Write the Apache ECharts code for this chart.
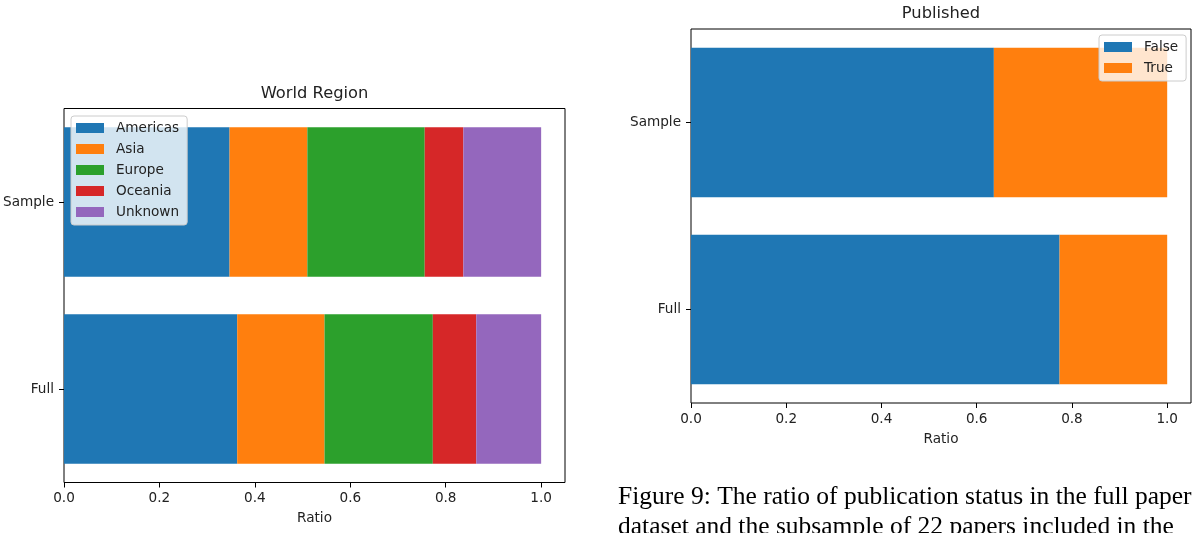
<!DOCTYPE html>
<html>
<head>
<meta charset="utf-8">
<script src="https://cdn.jsdelivr.net/npm/echarts@6.0.0/dist/echarts.min.js"></script>
<style>
  html, body { margin: 0; padding: 0; background: #fff; }
  #chart { width: 1192px; height: 533px; }
</style>
</head>
<body>
<div id="chart"></div>
<script>
// categories (bottom to top, like matplotlib barh)
const groups = ['Full', 'Sample']

// World Region ratios per group [Full, Sample]
const regionNames = ['Americas', 'Asia', 'Europe', 'Oceania', 'Unknown']
const americas = [0.363, 0.347]
const asia = [0.183, 0.163]
const europe = [0.227, 0.246]
const oceania = [0.091, 0.081]
const unknown = [0.136, 0.163]
const regionValues = [americas, asia, europe, oceania, unknown]

// Published ratios per group [Full, Sample]
const publishedNames = ['False', 'True']
const publishedFalse = [0.774, 0.636]
const publishedTrue = [0.226, 0.364]
const publishedValues = [publishedFalse, publishedTrue]

const ratioTicks = [0, 0.2, 0.4, 0.6, 0.8, 1.0]

const captionLines = [
  'Figure 9: The ratio of publication status in the full paper',
  'dataset and the subsample of 22 papers included in the'
]

const tab10 = ['#1f77b4', '#ff7f0e', '#2ca02c', '#d62728', '#9467bd']
const FONT = 'DejaVu Sans'
const TEXT = '#222'

const chart = echarts.init(document.getElementById('chart'), null, { renderer: 'canvas' })

const gridBase = {
  show: true,
  borderColor: '#000',
  borderWidth: 1,
  backgroundColor: 'transparent',
  containLabel: false,
  outerBoundsMode: 'none'
}

function xAxisFor(gridIndex) {
  return {
    type: 'value',
    gridIndex,
    min: 0,
    max: 1.05,
    name: 'Ratio',
    nameLocation: 'middle',
    nameGap: 29,
    nameTextStyle: { fontFamily: FONT, fontSize: 13.6, color: TEXT },
    axisLine: { show: false },
    axisTick: { show: true, length: 5, customValues: ratioTicks, lineStyle: { color: '#000', width: 1 } },
    axisLabel: {
      margin: 9,
      customValues: ratioTicks,
      formatter: (v) => v.toFixed(1),
      fontFamily: FONT,
      fontSize: 13.6,
      color: TEXT
    },
    splitLine: { show: false }
  }
}

function yAxisFor(gridIndex) {
  return {
    type: 'category',
    gridIndex,
    data: groups,
    axisLine: { show: false },
    axisTick: { show: true, length: 5, alignWithLabel: true, lineStyle: { color: '#000', width: 1 } },
    axisLabel: { margin: 10, fontFamily: FONT, fontSize: 13.6, color: TEXT },
    splitLine: { show: false }
  }
}

const legendBase = {
  orient: 'vertical',
  icon: 'rect',
  itemWidth: 28,
  itemHeight: 10,
  itemGap: 7,
  padding: [5, 8, 6, 5],
  backgroundColor: 'rgba(255,255,255,0.8)',
  borderColor: '#cccccc',
  borderWidth: 1,
  borderRadius: 3,
  selectedMode: false,
  textStyle: { fontFamily: FONT, fontSize: 13.6, color: TEXT, lineHeight: 14, padding: [0, 0, 0, 7] }
}

const series = []
regionNames.forEach((name, i) => {
  series.push({
    name,
    type: 'bar',
    stack: 'region',
    xAxisIndex: 0,
    yAxisIndex: 0,
    barCategoryGap: '20%',
    itemStyle: { color: tab10[i] },
    data: regionValues[i]
  })
})
publishedNames.forEach((name, i) => {
  series.push({
    name,
    type: 'bar',
    stack: 'published',
    xAxisIndex: 1,
    yAxisIndex: 1,
    barCategoryGap: '20%',
    itemStyle: { color: tab10[i] },
    data: publishedValues[i]
  })
})

// caption under the right chart, cut by the page edge like the figure
const captionFont = '25.5px "Liberation Serif"'
const caption = captionLines.map((line, i) => ({
  type: 'text',
  x: 618,
  y: 497 + i * 30,
  silent: true,
  style: { text: line, font: captionFont, fill: '#000', verticalAlign: 'middle' }
}))

const option = {
  backgroundColor: '#fff',
  animation: false,
  title: [
    {
      text: 'World Region',
      left: 314.5,
      top: 94,
      padding: 0,
      textAlign: 'center',
      textVerticalAlign: 'middle',
      textStyle: { fontFamily: FONT, fontSize: 16.3, fontWeight: 'normal', color: TEXT }
    },
    {
      text: 'Published',
      left: 941,
      top: 14,
      padding: 0,
      textAlign: 'center',
      textVerticalAlign: 'middle',
      textStyle: { fontFamily: FONT, fontSize: 16.3, fontWeight: 'normal', color: TEXT }
    }
  ],
  legend: [
    Object.assign({}, legendBase, { data: regionNames, left: 71, top: 116 }),
    Object.assign({}, legendBase, { data: publishedNames, left: 1099, top: 35 })
  ],
  grid: [
    Object.assign({}, gridBase, { left: 64, top: 108.5, width: 501, height: 374 }),
    Object.assign({}, gridBase, { left: 691, top: 29, width: 500, height: 374 })
  ],
  xAxis: [xAxisFor(0), xAxisFor(1)],
  yAxis: [yAxisFor(0), yAxisFor(1)],
  series,
  graphic: caption
}

chart.setOption(option)
</script>
</body>
</html>
